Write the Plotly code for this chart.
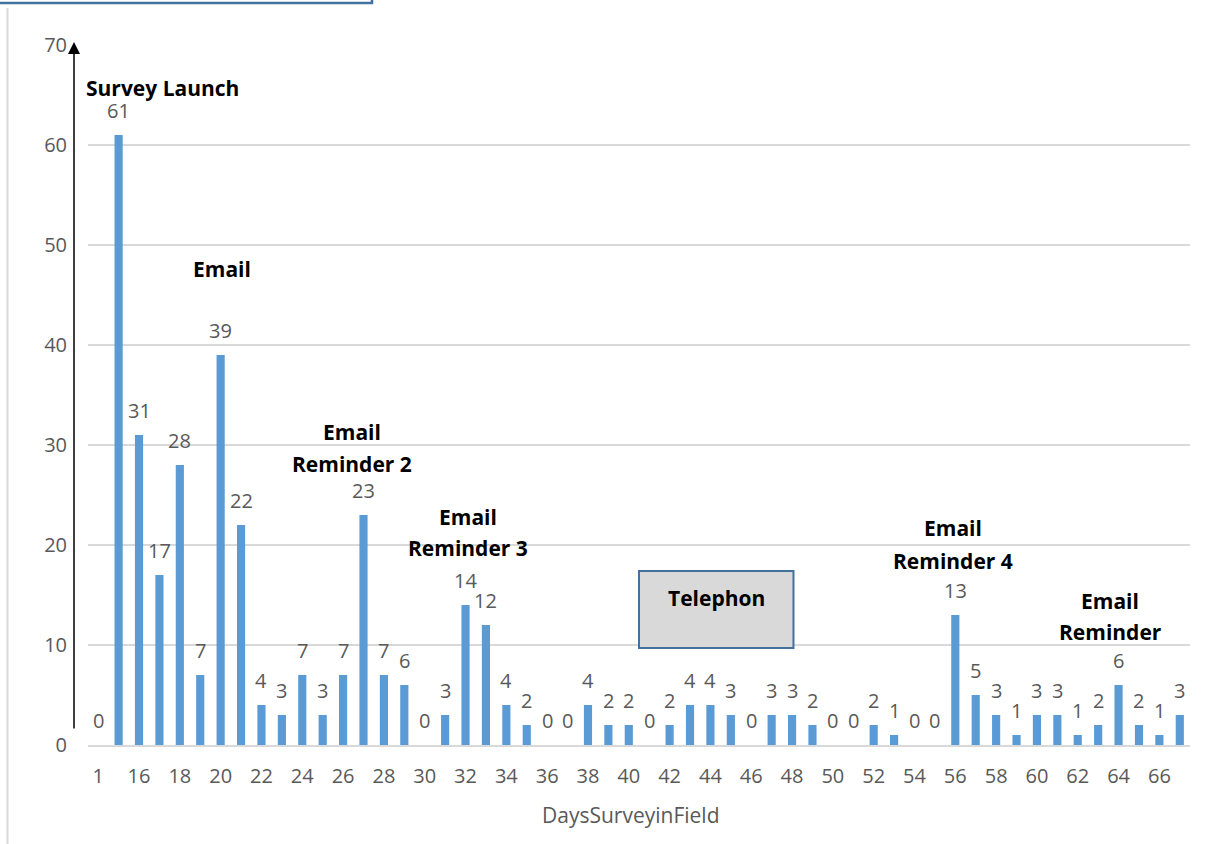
import plotly.graph_objects as go

# Days the survey was in the field and completed responses per day
days = ["1"] + [str(d) for d in range(15, 68)]
responses = [0, 61, 31, 17, 28, 7, 39, 22, 4, 3,
             7, 3, 7, 23, 7, 6, 0, 3, 14, 12,
             4, 2, 0, 0, 4, 2, 2, 0, 2, 4,
             4, 3, 0, 3, 3, 2, 0, 0, 2, 1,
             0, 0, 13, 5, 3, 1, 3, 3, 1, 2,
             6, 2, 1, 3]
tick_labels = days[::2]
y_ticks = [0, 10, 20, 30, 40, 50, 60, 70]

# Outreach events: (lines of text, x position in category index, y value of each line)
events = [
    (["Survey Launch"], 3.14, [65.7]),
    (["Email"], 6.08, [47.6]),
    (["Email", "Reminder 2"], 12.45, [31.3, 28.1]),
    (["Email", "Reminder 3"], 18.1, [22.8, 19.7]),
    (["Email", "Reminder 4"], 41.9, [21.7, 18.4]),
    (["Email", "Reminder"], 49.6, [14.4, 11.3]),
]

W, H = 1207, 844
L, R, T, B = 88, 17, 45, 99
PW, PH = W - L - R, H - T - B


def px_x(px):
    return (px - L) / PW


def px_y(py):
    return (H - B - py) / PH


REG = "Open Sans"
BOLD = "Open Sans"
GREY = "#595959"

fig = go.Figure()
fig.add_trace(go.Bar(
    x=days, y=responses,
    marker=dict(color="#5B9BD5", line=dict(width=0)),
    hoverinfo="x+y",
))

annotations = []
# value labels above each bar (x given as category index)
for i, v in enumerate(responses):
    annotations.append(dict(
        x=i, y=v, xref="x", yref="y", text=str(v), showarrow=False,
        xanchor="center", yanchor="middle", yshift=25,
        font=dict(family=REG, size=20, color=GREY),
    ))

# outreach event labels
for lines, xi, ys in events:
    for line, yv in zip(lines, ys):
        annotations.append(dict(
            x=xi, y=yv, xref="x", yref="y", text="<b>" + line + "</b>",
            showarrow=False, xanchor="center", yanchor="middle",
            font=dict(family=BOLD, size=21, color="#000000"),
        ))

# telephone follow-up label
annotations.append(dict(
    x=30.3, y=14.7, xref="x", yref="y", text="<b>Telephon</b>", showarrow=False,
    xanchor="center", yanchor="middle",
    font=dict(family=BOLD, size=21, color="#000000"),
))

# x axis title
annotations.append(dict(
    x=px_x(630), y=px_y(815), xref="paper", yref="paper",
    text="DaysSurveyinField", showarrow=False, xanchor="center", yanchor="middle",
    font=dict(family=REG, size=21, color=GREY),
))

# vertical arrow beside the y axis
annotations.append(dict(
    x=px_x(74), y=px_y(42), xref="paper", yref="paper", text="",
    showarrow=True, ax=0, ay=730 - 42, axref="pixel", ayref="pixel",
    arrowhead=2, arrowsize=1.6, arrowwidth=1.5, arrowcolor="#000000",
))

shapes = [
    # telephone box
    dict(type="rect", xref="x", yref="y", x0=26.5, x1=34.07, y0=9.7, y1=17.4,
         fillcolor="#D9D9D9", line=dict(color="#41719C", width=2), layer="above"),
    # frame edges around the chart
    dict(type="line", xref="paper", yref="paper", x0=px_x(7.5), x1=px_x(7.5),
         y0=px_y(8), y1=px_y(850), line=dict(color="#D9D9D9", width=2)),
    dict(type="rect", xref="paper", yref="paper", x0=px_x(-10), x1=px_x(372),
         y0=px_y(3), y1=px_y(-40), fillcolor="rgba(0,0,0,0)",
         line=dict(color="#41719C", width=2.5)),
]

fig.update_layout(
    width=W, height=H,
    margin=dict(l=L, r=R, t=T, b=B, pad=0),
    paper_bgcolor="white", plot_bgcolor="white",
    bargap=0.6,
    showlegend=False,
    annotations=annotations,
    shapes=shapes,
    font=dict(family=REG, size=20, color=GREY),
    xaxis=dict(
        type="category", categoryorder="array", categoryarray=days,
        tickmode="array", tickvals=tick_labels, ticktext=tick_labels,
        showgrid=False, showline=True, linecolor="#D9D9D9", linewidth=2,
        ticks="", ticklabelstandoff=12,
        tickfont=dict(family=REG, size=20, color=GREY),
        range=[-0.5, len(days) - 0.5],
    ),
    yaxis=dict(
        range=[0, 70], tickmode="array", tickvals=y_ticks,
        showgrid=True, gridcolor="#D9D9D9", gridwidth=1.5,
        zeroline=False, showline=False, ticks="", ticklabelstandoff=20,
        tickfont=dict(family=REG, size=20, color=GREY),
    ),
)

fig.write_html("out.html")
